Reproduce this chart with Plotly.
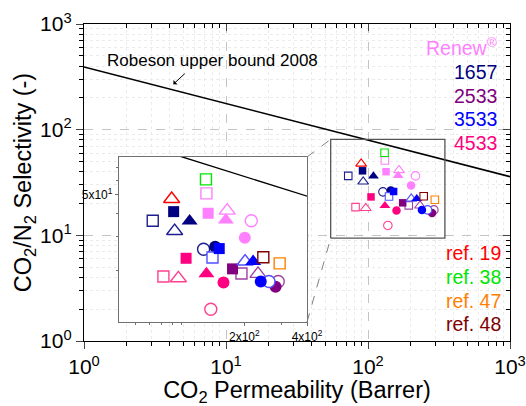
import math
import plotly.graph_objects as go

# ---------------- data (CO2 permeability [Barrer], CO2/N2 selectivity [-]) ----------------
renew_perm = [131.5, 134.0, 165.4, 163.0, 216.0, 201.0]
renew_sel = [51.0, 40.0, 41.3, 36.8, 36.5, 29.7]

p1657_perm = [72.6, 91.5, 92.5, 109.2, 127.4, 144.8]
p1657_sel = [36.5, 40.8, 32.2, 36.4, 25.8, 26.6]

p2533_perm = [193.7, 175.5, 232.6, 291.0, 282.5]
p2533_sel = [19.2, 20.3, 19.1, 17.4, 16.3]

p3533_perm = [140.6, 151.5, 201.7, 220.5, 262.6, 239.8]
p3533_sel = [23.3, 26.0, 22.2, 22.2, 17.4, 17.4]

p4533_perm = [81.7, 105.0, 96.4, 131.5, 138.0, 158.8]
p4533_sel = [18.5, 23.1, 18.1, 19.1, 12.4, 17.2]

ref19_perm, ref19_sel = [89.5], [47.6]
ref38_perm, ref38_sel = [130.8], [60.5]
ref47_perm, ref47_sel = [295.6], [21.7]
ref48_perm, ref48_sel = [246.7], [23.4]

# Robeson 2008 CO2/N2 upper bound: P = k * alpha^n
robeson_k = 30967000.0
robeson_n = -2.888
robeson_perm = [1.0, 1000.0]

# zoomed region shown in the inset
zoom_perm = [54.6, 348.0]
zoom_sel = [9.4, 81.0]

legend_names = ["Renew<sup>®</sup>", "1657", "2533", "3533", "4533"]
ref_names = ["ref. 19", "ref. 38", "ref. 47", "ref. 48"]

# ---------------- styles ----------------
FONT = "Arial, Liberation Sans, sans-serif"
C_RENEW, C1657, C2533, C3533, C4533 = "#FF80FF", "#000080", "#800080", "#0000FF", "#FF0080"
C19, C38, C47, C48 = "#FF0000", "#00E600", "#FF8000", "#800000"

renew_sym = ["square-open", "square", "triangle-up-open", "triangle-up", "circle-open", "circle"]
s1657_sym = ["square-open", "square", "triangle-up-open", "triangle-up", "circle-open", "circle"]
s2533_sym = ["square-open", "square", "triangle-up-open", "circle-open", "circle"]
s3533_sym = ["square-open", "square", "triangle-up-open", "triangle-up", "circle-open", "circle"]
s4533_sym = ["square-open", "square", "triangle-up-open", "triangle-up", "circle-open", "circle"]

open_line_col = {C1657: "#1E1E90", C2533: "#A040A0", C3533: "#5050FF", C4533: "#FF4090"}

series = [
    (renew_perm, renew_sel, renew_sym, C_RENEW),
    (p1657_perm, p1657_sel, s1657_sym, C1657),
    (p4533_perm, p4533_sel, s4533_sym, C4533),
    (p2533_perm, p2533_sel, s2533_sym, C2533),
    (p3533_perm, p3533_sel, s3533_sym, C3533),
    (ref19_perm, ref19_sel, ["triangle-up-open"], C19),
    (ref38_perm, ref38_sel, ["square-open"], C38),
    (ref47_perm, ref47_sel, ["square-open"], C47),
    (ref48_perm, ref48_sel, ["square-open"], C48),
]

size_main = {"square": 7.5, "triangle-up": 9.5, "circle": 8.5}
size_inset = {"square": 11, "triangle-up": 14, "circle": 12}

# inset axis ranges (log10)
inset_xr = [math.log10(50), math.log10(400)]
inset_yr = [1.026, 1.900]
# inset placement in paper coords
ins_dx = [0.0822, 0.5235]
ins_dy = [0.0599, 0.5804]

fig = go.Figure()


def add_points(xa, ya, sizes, lw):
    for px, py, syms, col in series:
        for x, y, s in zip(px, py, syms):
            base = s.replace("-open", "")
            is_open = s.endswith("-open")
            lc = open_line_col.get(col, col) if is_open else col
            fig.add_trace(go.Scatter(
                x=[x], y=[y], mode="markers", xaxis=xa, yaxis=ya, showlegend=False,
                marker=dict(symbol=base, size=sizes[base],
                            color="white" if is_open else col,
                            line=dict(color=lc, width=lw if is_open else 0)),
                hoverinfo="skip"))


rob_sel = [(robeson_k / p) ** (1.0 / -robeson_n) for p in robeson_perm]

# main Robeson line
fig.add_trace(go.Scatter(x=robeson_perm, y=rob_sel, mode="lines", xaxis="x", yaxis="y",
                         line=dict(color="black", width=1.6), showlegend=False, hoverinfo="skip"))
# zoom rectangle
fig.add_trace(go.Scatter(x=[zoom_perm[0], zoom_perm[1], zoom_perm[1], zoom_perm[0], zoom_perm[0]],
                         y=[zoom_sel[0], zoom_sel[0], zoom_sel[1], zoom_sel[1], zoom_sel[0]],
                         mode="lines", xaxis="x", yaxis="y", line=dict(color="#555555", width=1.3),
                         showlegend=False, hoverinfo="skip"))
add_points("x", "y", size_main, 1.1)

# inset Robeson line
fig.add_trace(go.Scatter(x=robeson_perm, y=rob_sel, mode="lines", xaxis="x2", yaxis="y2",
                         line=dict(color="black", width=1.4), showlegend=False, hoverinfo="skip"))
add_points("x2", "y2", size_inset, 1.4)

# dummy traces for mirrored (inside) ticks
fig.add_trace(go.Scatter(x=[None], y=[None], xaxis="x3", yaxis="y", showlegend=False))
fig.add_trace(go.Scatter(x=[None], y=[None], xaxis="x", yaxis="y3", showlegend=False))

major = [1, 10, 100, 1000]
major_txt = ["10<sup>%d</sup>" % i for i in range(4)]
minor = [k * 10 ** e for e in range(3) for k in range(2, 10)]

common = dict(type="log", range=[0, 3], showline=True, linecolor="black", linewidth=1.4,
              zeroline=False, tickmode="array", tickvals=major, automargin=False)

fig.update_layout(
    width=526, height=406, autosize=False,
    margin=dict(l=84, r=16, t=24, b=65),
    paper_bgcolor="white", plot_bgcolor="white",
    font=dict(family=FONT, color="black"),
    xaxis=dict(**common, domain=[0, 1], anchor="y", ticktext=major_txt, ticks="outside",
               ticklen=7, tickwidth=1.2, tickfont=dict(size=21),
               showgrid=True, gridcolor="#C4C4C4", griddash="dash", gridwidth=1,
               minor=dict(tickmode="array", tickvals=minor, ticks="outside", ticklen=4,
                          tickwidth=1, tickcolor="black", showgrid=True,
                          gridcolor="#EBEBEB", griddash="dot", gridwidth=1),
               title=dict(text="CO<sub>2</sub> Permeability (Barrer)", font=dict(size=23.5), standoff=6)),
    yaxis=dict(**common, domain=[0, 1], anchor="x", ticktext=major_txt, ticks="outside",
               ticklen=7, tickwidth=1.2, tickfont=dict(size=21),
               showgrid=True, gridcolor="#C4C4C4", griddash="dash", gridwidth=1,
               minor=dict(tickmode="array", tickvals=minor, ticks="outside", ticklen=4,
                          tickwidth=1, tickcolor="black", showgrid=True,
                          gridcolor="#EBEBEB", griddash="dot", gridwidth=1),
               title=dict(text="CO<sub>2</sub>/N<sub>2</sub> Selectivity (-)", font=dict(size=23.5), standoff=1)),
    xaxis3=dict(**common, overlaying="x", side="top", anchor="y", showticklabels=False,
                ticks="inside", ticklen=7, tickwidth=1.2, showgrid=False,
                minor=dict(tickmode="array", tickvals=minor, ticks="inside", ticklen=4,
                           tickwidth=1, tickcolor="black", showgrid=False)),
    yaxis3=dict(**common, overlaying="y", side="right", anchor="x", showticklabels=False,
                ticks="inside", ticklen=7, tickwidth=1.2, showgrid=False,
                minor=dict(tickmode="array", tickvals=minor, ticks="inside", ticklen=4,
                           tickwidth=1, tickcolor="black", showgrid=False)),
    xaxis2=dict(type="log", range=inset_xr, domain=ins_dx, anchor="y2", showline=True, mirror=True,
                linecolor="#707070", linewidth=1.3, zeroline=False, showgrid=False, automargin=False,
                tickmode="array", tickvals=[200, 400], ticktext=["2x10<sup>2</sup>", "4x10<sup>2</sup>"],
                ticks="outside", ticklen=3, tickcolor="#707070", tickfont=dict(size=12),
                minor=dict(tickmode="array", tickvals=[60, 70, 80, 90, 100, 300], ticks="outside",
                           ticklen=2, tickcolor="#707070", showgrid=False)),
    yaxis2=dict(type="log", range=inset_yr, domain=ins_dy, anchor="x2", showline=True, mirror=True,
                linecolor="#707070", linewidth=1.3, zeroline=False, showgrid=False, automargin=False,
                tickmode="array", tickvals=[50], ticktext=["5x10<sup>1</sup>"],
                ticks="outside", ticklen=3, tickcolor="#707070", tickfont=dict(size=12),
                minor=dict(tickmode="array", tickvals=[20, 30, 40, 60, 70], ticks="outside",
                           ticklen=2, tickcolor="#707070", showgrid=False)),
)


# connector dashed lines from inset corners to zoom rectangle
def paper_x(v):
    return math.log10(v) / 3.0


def paper_y(v):
    return math.log10(v) / 3.0


fig.add_shape(type="line", xref="paper", yref="paper", x0=ins_dx[1], y0=ins_dy[1],
              x1=paper_x(zoom_perm[0]), y1=paper_y(zoom_sel[1]),
              line=dict(color="#808080", width=1, dash="dash"))
fig.add_shape(type="line", xref="paper", yref="paper", x0=ins_dx[1], y0=ins_dy[0],
              x1=paper_x(zoom_perm[0]), y1=paper_y(zoom_sel[0]),
              line=dict(color="#808080", width=1, dash="dash"))

# Robeson label with arrow
fig.add_annotation(x=0.908, y=2.653, xref="x", yref="y", text="Robeson upper bound 2008",
                   showarrow=False, font=dict(size=17))
fig.add_annotation(x=0.629, y=2.430, xref="x", yref="y", text="", showarrow=True,
                   ax=13, ay=-12, arrowhead=1, arrowsize=1, arrowwidth=1, arrowcolor="black")

# legend-like labels
leg_cols = [C_RENEW, C1657, C2533, C3533, C4533]
leg_py = [47.5, 71.7, 96.0, 119.3, 142.5]
for t, c, py in zip(legend_names, leg_cols, leg_py):
    fig.add_annotation(xref="paper", yref="paper", x=(499 - 84) / 426, y=(341 - py) / 317,
                       text=t, showarrow=False, xanchor="right", yanchor="middle",
                       font=dict(size=19.5, color=c))
ref_cols = [C19, C38, C47, C48]
ref_py = [253.5, 277.0, 300.5, 324.0]
for t, c, py in zip(ref_names, ref_cols, ref_py):
    fig.add_annotation(xref="paper", yref="paper", x=(503 - 84) / 426, y=(341 - py) / 317,
                       text=t, showarrow=False, xanchor="right", yanchor="middle",
                       font=dict(size=19.5, color=c))

fig.write_html("out.html")
